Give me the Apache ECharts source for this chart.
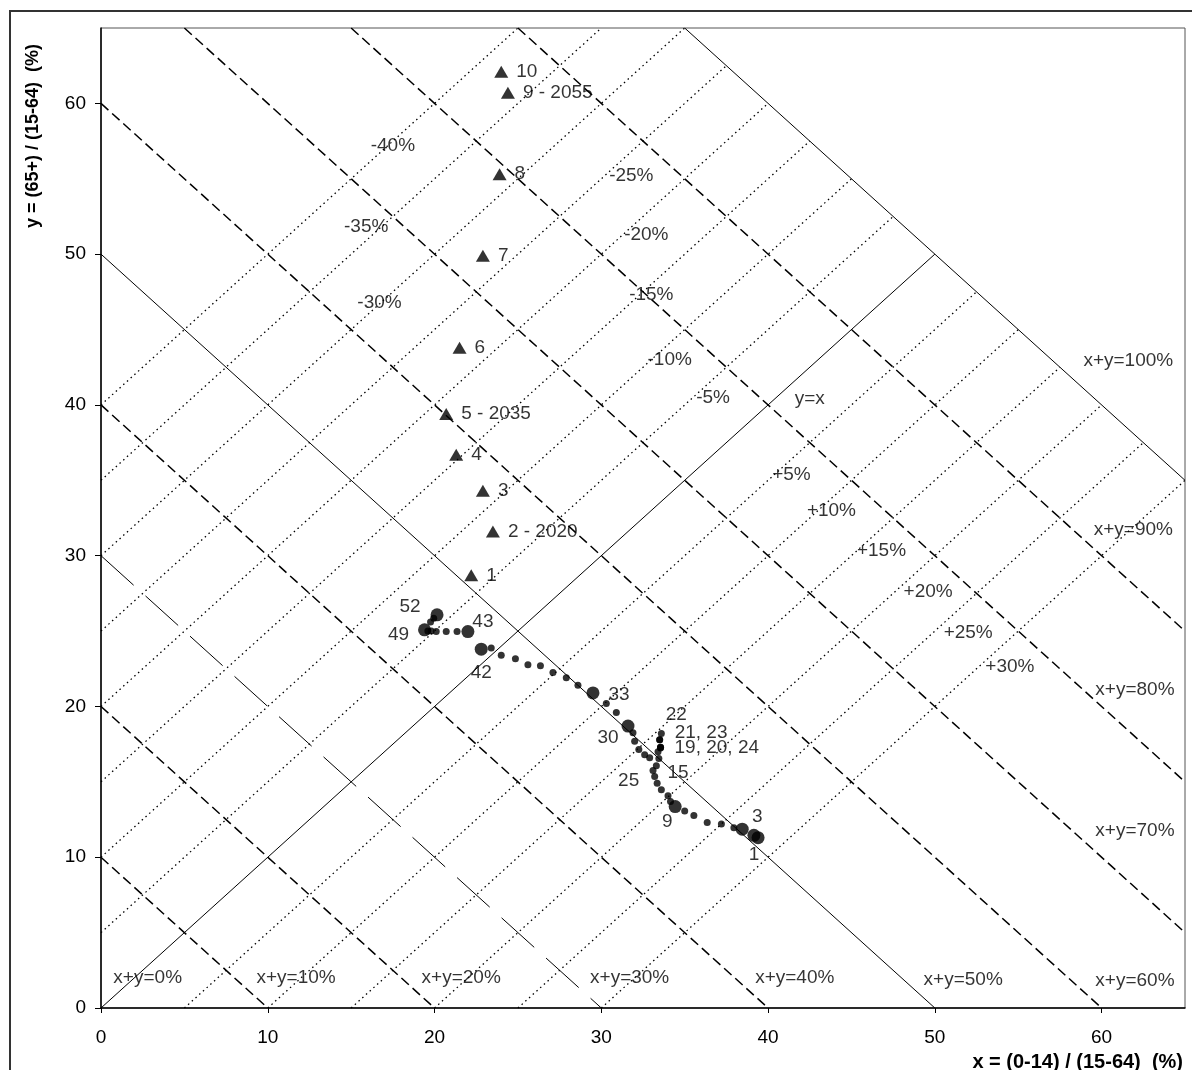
<!DOCTYPE html>
<html><head><meta charset="utf-8">
<script src="https://cdn.jsdelivr.net/npm/echarts@6/dist/echarts.min.js"></script>
<style>html,body{margin:0;padding:0;background:#fff}#c{width:1192px;height:1070px}</style>
</head><body><div id="c"></div>
<script>
// ================= DATA =================
// Historical path (points 1..52): x = (0-14)/(15-64) %, y = (65+)/(15-64) %
const histX = [39.4, 39.15, 38.45, 37.95, 37.2, 36.35, 35.55, 35.0, 34.43, 34.15,
  34.0, 33.6, 33.35, 33.2, 33.1, 33.3, 33.45, 33.4, 33.55, 33.55,
  33.5, 33.6, 33.5, 33.55, 32.9, 32.6, 32.25, 32.0, 31.9, 31.6,
  30.9, 30.3, 29.5, 28.6, 27.9, 27.1, 26.35, 25.6, 24.85, 24.0,
  23.4, 22.8, 22.0, 21.35, 20.7, 20.1, 19.8, 19.6, 19.4, 19.76,
  19.95, 20.15];
const histY = [11.3, 11.45, 11.86, 11.96, 12.2, 12.3, 12.76, 13.07, 13.36, 13.69,
  14.07, 14.47, 14.9, 15.35, 15.75, 16.06, 16.55, 17.0, 17.3, 17.3,
  17.8, 18.2, 17.8, 17.25, 16.6, 16.8, 17.15, 17.7, 18.25, 18.7,
  19.6, 20.2, 20.9, 21.4, 21.9, 22.25, 22.7, 22.76, 23.16, 23.4,
  23.87, 23.8, 24.97, 24.97, 24.97, 24.97, 25.0, 25.0, 25.08, 25.6,
  25.85, 26.08];
const histMajorPoints = [1, 2, 3, 9, 30, 33, 42, 43, 49, 52];
const histLabelPoints = [1, 3, 9, 15, 19, 21, 22, 25, 30, 33, 42, 43, 49, 52];
const histLabelTexts  = ['1', '3', '9', '15', '19, 20, 24', '21, 23', '22', '25', '30', '33', '42', '43', '49', '52'];

// Projections (triangles)
const projX = [22.2, 23.5, 22.9, 21.3, 20.7, 21.5, 22.9, 23.9, 24.4, 24.0];
const projY = [28.7, 31.6, 34.3, 36.7, 39.4, 43.8, 49.9, 55.3, 60.7, 62.1];
const projLabels = ['1', '2 - 2020', '3', '4', '5 - 2035', '6', '7', '8', '9 - 2055', '10'];

// Reference lines
const sumLevels  = [10, 20, 30, 40, 50, 60, 70, 80, 90, 100];         // x + y = S
const diffLevels = [-30, -25, -20, -15, -10, -5, 5, 10, 15, 20, 25, 30, 35, 40]; // y = x + c
const sumLabelTexts  = ['x+y=0%', 'x+y=10%', 'x+y=20%', 'x+y=30%', 'x+y=40%', 'x+y=50%', 'x+y=60%', 'x+y=70%', 'x+y=80%', 'x+y=90%', 'x+y=100%'];
const diffLabelTexts = ['-40%', '-35%', '-30%', '-25%', '-20%', '-15%', '-10%', '-5%', 'y=x', '+5%', '+10%', '+15%', '+20%', '+25%', '+30%'];

// Axis
const axisMin = 0, axisMax = 65;
const tickValues = [0, 10, 20, 30, 40, 50, 60];

// ================= LAYOUT (not data) =================
const annotationAt = {
  'x+y=0%': [2.8, 2.0], 'x+y=10%': [11.7, 2.0], 'x+y=20%': [21.6, 2.0], 'x+y=30%': [31.7, 2.0],
  'x+y=40%': [41.6, 2.0], 'x+y=50%': [51.7, 1.9], 'x+y=60%': [62.0, 1.8], 'x+y=70%': [62.0, 11.75],
  'x+y=80%': [62.0, 21.1], 'x+y=90%': [61.9, 31.7], 'x+y=100%': [61.6, 42.9],
  'y=x': [42.5, 40.4], '-5%': [36.7, 40.5], '-10%': [34.1, 43.0], '-15%': [33.0, 47.3],
  '-20%': [32.7, 51.3], '-25%': [31.8, 55.2], '-30%': [16.7, 46.8], '-35%': [15.9, 51.8],
  '-40%': [17.5, 57.2], '+5%': [41.4, 35.4], '+10%': [43.8, 33.0], '+15%': [46.8, 30.3],
  '+20%': [49.6, 27.6], '+25%': [52.0, 24.9], '+30%': [54.5, 22.6]
};
// label anchor offsets in px: [dx, dy, align]
const histLabelLayout = {
  1: [-4, 17, 'center'], 3: [15, -12, 'center'], 9: [-8, 15, 'center'], 15: [25, 2, 'center'],
  19: [14, 1, 'left'], 21: [15, -7, 'left'], 22: [15, -19, 'center'], 25: [-21, 23, 'center'],
  30: [-20, 12, 'center'], 33: [26, 2, 'center'], 42: [0, 24, 'center'], 43: [15, -10, 'center'],
  49: [-26, 5, 'center'], 52: [-27, -8, 'center']
};

const FONT = '"Liberation Sans", Arial, sans-serif';
const FS = 19;
const TXT = { color: '#000', fontSize: FS, fontFamily: FONT, textBorderWidth: 0, textShadowBlur: 0 };

// ================= BUILD =================
const capSum = Math.max(...sumLevels);
function sumSegment(S) {
  const x0 = Math.max(axisMin, S - axisMax);
  const y1 = Math.max(axisMin, S - axisMax);
  return [[x0, S - x0], [S - y1, y1]];
}
function diffSegment(c) {
  const start = c >= 0 ? [0, c] : [-c, 0];
  let ex = (capSum - c) / 2, ey = (capSum + c) / 2;
  if (ey > axisMax) { ey = axisMax; ex = axisMax - c; }
  if (ex > axisMax) { ex = axisMax; ey = axisMax + c; }
  return [start, [ex, ey]];
}
function sumStyle(S) {
  if (S % 50 === 0) return { color: '#000', width: 1, type: 'solid' };
  if (S === 30) return { color: '#000', width: 1, type: [44, 16] };
  return { color: '#000', width: 1.5, type: [10, 5] };
}

const series = [];
diffLevels.forEach(c => {
  series.push({ type: 'line', data: diffSegment(c), showSymbol: false, symbol: 'none', silent: true,
    lineStyle: { color: '#000', width: 1.3, type: [1.5, 3.5] }, z: 1 });
});
series.push({ type: 'line', data: diffSegment(0), showSymbol: false, symbol: 'none', silent: true,
  lineStyle: { color: '#000', width: 1, type: 'solid' }, z: 2 });
sumLevels.forEach(S => {
  series.push({ type: 'line', data: sumSegment(S), showSymbol: false, symbol: 'none', silent: true,
    lineStyle: sumStyle(S), z: 2 });
});

// historical
const histData = histX.map((x, i) => {
  const n = i + 1;
  const item = { value: [x, histY[i]], symbolSize: histMajorPoints.includes(n) ? 13 : 7 };
  const li = histLabelPoints.indexOf(n);
  if (li >= 0) {
    const L = histLabelLayout[n];
    item.label = Object.assign({ show: true, formatter: histLabelTexts[li], position: 'inside',
      offset: [L[0], L[1]], align: L[2], verticalAlign: 'middle' }, TXT);
  }
  return item;
});
series.push({ type: 'scatter', data: histData, symbol: 'circle', itemStyle: { color: '#000' }, z: 5,
  label: Object.assign({ show: false }, TXT), silent: true });

// projections
series.push({ type: 'scatter', symbol: 'triangle', symbolSize: [14, 12], itemStyle: { color: '#000' }, z: 5,
  data: projX.map((x, i) => ({ value: [x, projY[i]], name: projLabels[i] })),
  label: Object.assign({ show: true, position: 'inside', offset: [15, 0], align: 'left', verticalAlign: 'middle',
    formatter: p => p.name }, TXT), silent: true });

// annotations
const annTexts = sumLabelTexts.concat(diffLabelTexts);
series.push({ type: 'scatter', symbol: 'circle', symbolSize: 0, z: 6, silent: true,
  itemStyle: { color: 'rgba(0,0,0,0)' },
  data: annTexts.map(t => ({ value: annotationAt[t], name: t })),
  label: Object.assign({ show: true, position: 'inside', formatter: p => p.name,
    align: 'center', verticalAlign: 'middle' }, TXT) });

const chart = echarts.init(document.getElementById('c'), null, { renderer: 'canvas' });
chart.setOption({
  animation: false,
  backgroundColor: '#fff',
  textStyle: { fontFamily: FONT },
  grid: { left: 101, right: 7, top: 28, bottom: 62, show: true, borderColor: '#555', borderWidth: 1, containLabel: false },
  xAxis: { type: 'value', min: axisMin, max: axisMax, interval: 10,
    axisLine: { onZero: false, lineStyle: { color: '#000', width: 1.5 } },
    axisTick: { show: true, length: 5, lineStyle: { color: '#000' }, customValues: tickValues },
    axisLabel: { color: '#000', fontSize: FS, fontFamily: FONT, margin: 20, customValues: tickValues },
    splitLine: { show: false } },
  yAxis: { type: 'value', min: axisMin, max: axisMax, interval: 10,
    axisLine: { onZero: false, lineStyle: { color: '#000', width: 1.5 } },
    axisTick: { show: true, length: 6, lineStyle: { color: '#000' }, customValues: tickValues },
    axisLabel: { color: '#000', fontSize: FS, fontFamily: FONT, margin: 15, customValues: tickValues },
    splitLine: { show: false } },
  graphic: [
    { type: 'rect', shape: { x: 10, y: 11, width: 1400, height: 1200 }, style: { fill: 'none', stroke: '#333', lineWidth: 2 }, silent: true },
    { type: 'text', x: 33, y: 136, rotation: Math.PI / 2,
      style: { text: 'y = (65+) / (15-64)  (%)', fontSize: 18, fontWeight: 'bold', fontFamily: FONT, fill: '#000', align: 'center', verticalAlign: 'middle' } },
    { type: 'text', x: 1183, y: 1062,
      style: { text: 'x = (0-14) / (15-64)  (%)', fontSize: 20, fontWeight: 'bold', fontFamily: FONT, fill: '#000', align: 'right', verticalAlign: 'middle' } }
  ],
  series: series
});
</script></body></html>
